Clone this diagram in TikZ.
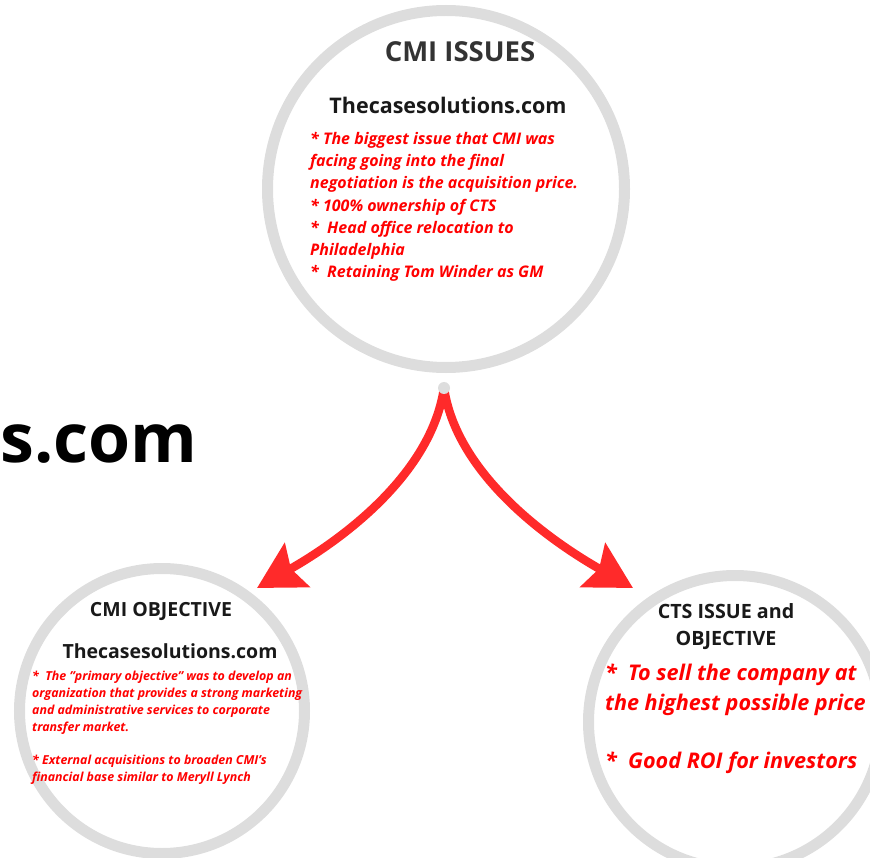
\documentclass[tikz,border=0pt]{standalone}
\usepackage{fontspec}
\setmainfont{Open Sans}
\usepackage{xcolor}
\usetikzlibrary{arrows.meta}

\definecolor{ringgray}{HTML}{DDDDDD}
\definecolor{textred}{HTML}{FF0000}
\definecolor{arrowred}{HTML}{FF2A2A}
\definecolor{titlegray}{HTML}{333333}

\tikzset{
  ring/.style={circle, draw=ringgray, line width=11pt, inner sep=0pt},
  ttl/.style={text=titlegray, inner sep=0pt, align=center},
  site/.style={text=black!90, inner sep=0pt},
  redtxt/.style={text=textred, align=left, anchor=north west, inner sep=0pt},
  link/.style={draw=arrowred, line width=8.5pt, -{Stealth[length=46pt, width=50pt, inset=7pt]}},
  hubdot/.style={circle, fill=ringgray, inner sep=0pt, minimum size=12pt},
}

\begin{document}
\begin{tikzpicture}[x=1pt, y=-1pt]
  \useasboundingbox (0,0) rectangle (870,858);

  % watermark at the left edge
  \node[anchor=base west, inner sep=0pt, font=\fontsize{68}{68}\selectfont\bfseries] (mark) at (0.5,462) {s.com};

  \node[ring, minimum size=357pt] (issues) at (446,189) {};
  \node[ring, minimum size=285pt] (cmiobj) at (162,711) {};
  \node[ring, minimum size=293pt] (ctsobj) at (735,722) {};

  % top circle
  \node[ttl, font=\fontsize{27.5}{30}\selectfont\bfseries] (issuesttl) at (460,52) {CMI ISSUES};
  \node[site, font=\fontsize{21.5}{24}\selectfont\bfseries] (issuessite) at (448,105) {Thecasesolutions.com};
  \node[redtxt, font=\fontsize{16}{22.2}\selectfont\bfseries\itshape] (issuestxt) at (310,132) {%
    * The biggest issue that CMI was\\
    facing going into the final\\
    negotiation is the acquisition price.\\
    * 100\% ownership of CTS\\
    *~ Head office relocation to\\
    Philadelphia\\
    *~ Retaining Tom Winder as GM};

  % left circle
  \node[ttl, text=black!90, font=\fontsize{19.5}{22}\selectfont\bfseries] (cmittl) at (161,611) {CMI OBJECTIVE};
  \node[site, font=\fontsize{19.5}{22}\selectfont\bfseries] (cmisite) at (170,651) {Thecasesolutions.com};
  \node[redtxt, font=\fontsize{12.4}{16.8}\selectfont\bfseries\itshape] (cmitxt) at (32,671) {%
    *~ The "primary objective" was to develop an\\
    organization that provides a strong marketing\\
    and administrative services to corporate\\
    transfer market.\\[16.8pt]
    * External acquisitions to broaden CMI's\\
    financial base similar to Meryll Lynch};

  % right circle
  \node[ttl, text=black!90, font=\fontsize{19.7}{27}\selectfont\bfseries] (ctsttl) at (726,627) {CTS ISSUE and\\OBJECTIVE};
  \node[redtxt, font=\fontsize{21.6}{29.3}\selectfont\bfseries\itshape] (ctstxt) at (605,664) {%
    *~ To sell the company at\\
    the highest possible price\\[29.3pt]
    *~ Good ROI for investors};

  % arrows
  \coordinate (hub) at (444,388);
  \coordinate (cmitip) at (257,588);
  \coordinate (ctstip) at (633,588);
  \draw[link] (hub) .. controls (432,470) and (350,535) .. (cmitip);
  \draw[link] (hub) .. controls (456,470) and (540,535) .. (ctstip);
  \node[hubdot] (hubnode) at (hub) {};
\end{tikzpicture}
\end{document}
